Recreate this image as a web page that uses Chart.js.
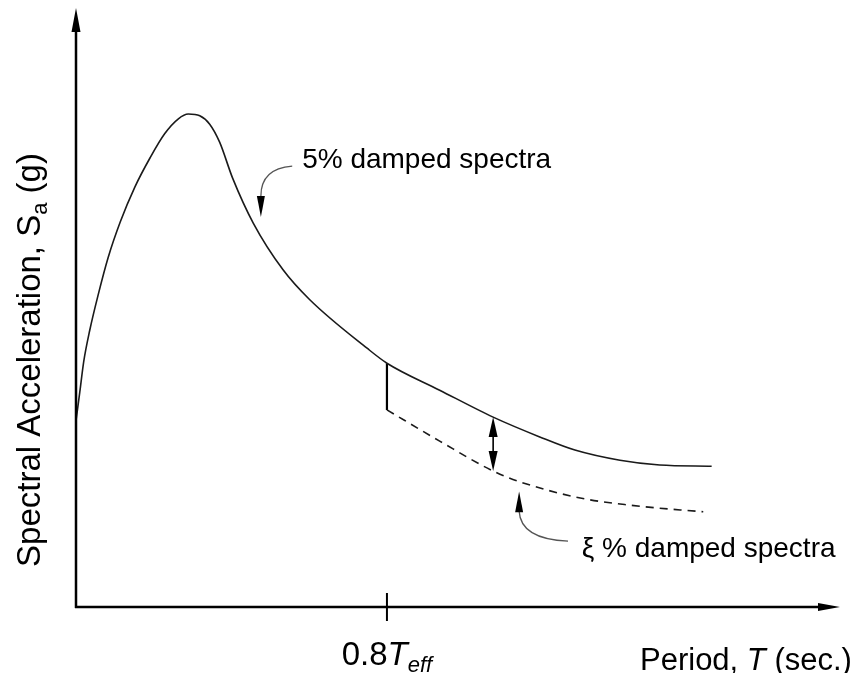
<!DOCTYPE html>
<html>
<head>
<meta charset="utf-8">
<script src="https://cdn.jsdelivr.net/npm/chart.js@4/dist/chart.umd.min.js"></script>
<style>
  html, body { margin: 0; padding: 0; background: #fff; }
  #wrap { width: 862px; height: 673px; }
</style>
</head>
<body>
<div id="wrap"><canvas id="spectraChart" width="862" height="673"></canvas></div>
<script>
// Period (arbitrary units) and spectral acceleration
const periods5 = [0.00, 0.05, 0.10, 0.18, 0.29, 0.42, 0.58, 0.77, 0.97, 1.16, 1.34, 1.47, 1.62, 1.75, 1.88, 2.05, 2.32, 2.71, 3.06, 3.81, 4.07, 4.76, 5.46, 6.07, 6.53, 7.12, 7.64, 8.32];
const sa5 = [3.11, 3.59, 4.09, 4.62, 5.21, 5.83, 6.43, 7.01, 7.50, 7.90, 8.15, 8.23, 8.20, 8.06, 7.76, 7.16, 6.41, 5.63, 5.13, 4.32, 4.07, 3.62, 3.17, 2.84, 2.62, 2.45, 2.37, 2.35];

const periodsXi = [4.07, 4.76, 5.46, 5.81, 6.60, 7.25, 7.91, 8.21];
const saXi = [3.29, 2.77, 2.27, 2.09, 1.82, 1.70, 1.62, 1.59];

// 0.8 T_eff and the spot of the double arrow
const tEff08 = 4.07;
const tArrow = 5.46;
const arrowTop = 3.17;
const arrowBottom = 2.27;

const toPoints = (xs, ys) => xs.map((x, i) => ({ x: x, y: ys[i] }));

const ink = '#1a1a1a';
const fontFam = '"Liberation Sans", Arial, Helvetica, sans-serif';

// axes, arrows, tick, labels and pointers
const drawingPlugin = {
    id: 'drawing',
    afterDatasetsDraw(chart) {
        const ctx = chart.ctx;
        const xs = chart.scales.x, ys = chart.scales.y;
        const px = v => xs.getPixelForValue(v);
        const py = v => ys.getPixelForValue(v);
        const area = chart.chartArea;
        const x0 = area.left, y0 = area.bottom;

        ctx.save();
        ctx.strokeStyle = '#000';
        ctx.fillStyle = '#000';
        ctx.lineWidth = 2.5;

        // y axis
        ctx.beginPath();
        ctx.moveTo(x0, y0 + 1);
        ctx.lineTo(x0, area.top + 20);
        ctx.stroke();
        ctx.beginPath();
        ctx.moveTo(x0, area.top);
        ctx.lineTo(x0 - 4.5, area.top + 24);
        ctx.lineTo(x0 + 4.5, area.top + 24);
        ctx.closePath();
        ctx.fill();

        // x axis
        ctx.beginPath();
        ctx.moveTo(x0 - 1, y0);
        ctx.lineTo(area.right - 18, y0);
        ctx.stroke();
        ctx.beginPath();
        ctx.moveTo(area.right, y0);
        ctx.lineTo(area.right - 22, y0 - 4);
        ctx.lineTo(area.right - 22, y0 + 4);
        ctx.closePath();
        ctx.fill();

        // tick at 0.8 T_eff
        ctx.lineWidth = 2;
        ctx.beginPath();
        ctx.moveTo(px(tEff08), y0 - 14);
        ctx.lineTo(px(tEff08), y0 + 14);
        ctx.stroke();

        // double arrow heads
        const ax = px(tArrow);
        const aTop = py(arrowTop), aBot = py(arrowBottom);
        ctx.beginPath();
        ctx.moveTo(ax, aTop);
        ctx.lineTo(ax - 4.5, aTop + 20);
        ctx.lineTo(ax + 4.5, aTop + 20);
        ctx.closePath();
        ctx.fill();
        ctx.beginPath();
        ctx.moveTo(ax, aBot);
        ctx.lineTo(ax - 4.5, aBot - 20);
        ctx.lineTo(ax + 4.5, aBot - 20);
        ctx.closePath();
        ctx.fill();

        // pointer for 5% curve
        ctx.strokeStyle = '#555';
        ctx.lineWidth = 1.3;
        ctx.beginPath();
        ctx.moveTo(px(2.83), py(7.36));
        ctx.quadraticCurveTo(px(2.42), py(7.32), px(2.42), py(6.86));
        ctx.stroke();
        ctx.fillStyle = '#000';
        ctx.beginPath();
        ctx.moveTo(px(2.42), py(6.51));
        ctx.lineTo(px(2.42) - 4, py(6.86));
        ctx.lineTo(px(2.42) + 4, py(6.86));
        ctx.closePath();
        ctx.fill();

        // pointer for xi curve
        ctx.beginPath();
        ctx.moveTo(px(5.80), py(1.60));
        ctx.quadraticCurveTo(px(5.82), py(1.13), px(6.44), py(1.10));
        ctx.stroke();
        ctx.beginPath();
        ctx.moveTo(px(5.80), py(1.93));
        ctx.lineTo(px(5.80) - 4, py(1.58));
        ctx.lineTo(px(5.80) + 4, py(1.58));
        ctx.closePath();
        ctx.fill();

        // text
        ctx.fillStyle = '#000';
        ctx.textBaseline = 'alphabetic';
        ctx.font = '28px ' + fontFam;
        ctx.textAlign = 'left';
        ctx.fillText('5% damped spectra', px(2.96), py(7.33));
        ctx.fillText('\u03BE % damped spectra', px(6.62), py(0.84));

        // 0.8 T_eff label
        const lblY = y0 + 58;
        const part1 = '0.8';
        ctx.font = '33px ' + fontFam;
        const w1 = ctx.measureText(part1).width;
        ctx.font = 'italic 33px ' + fontFam;
        const w2 = ctx.measureText('T').width;
        ctx.font = 'italic 22px ' + fontFam;
        const w3 = ctx.measureText('eff').width;
        let lx = px(tEff08) - (w1 + w2 + w3) / 2;
        ctx.font = '33px ' + fontFam;
        ctx.fillText(part1, lx, lblY);
        lx += w1;
        ctx.font = 'italic 33px ' + fontFam;
        ctx.fillText('T', lx, lblY);
        lx += w2;
        ctx.font = 'italic 22px ' + fontFam;
        ctx.fillText('eff', lx, lblY + 7);

        // x title
        const tY = y0 + 63;
        const seg = [['Period, ', ''], ['T', 'italic '], [' (sec.)', '']];
        let tx = 640;
        seg.forEach(s => {
            ctx.font = s[1] + '31px ' + fontFam;
            ctx.fillText(s[0], tx, tY);
            tx += ctx.measureText(s[0]).width;
        });

        // y title (rotated)
        ctx.translate(40, 360);
        ctx.rotate(-Math.PI / 2);
        const ySeg = [['Spectral Acceleration, S', 33, 0], ['a', 22, 7], [' (g)', 33, 0]];
        let yTotal = 0;
        ySeg.forEach(s => { ctx.font = s[1] + 'px ' + fontFam; yTotal += ctx.measureText(s[0]).width; });
        let yx = -yTotal / 2;
        ySeg.forEach(s => {
            ctx.font = s[1] + 'px ' + fontFam;
            ctx.fillText(s[0], yx, s[2]);
            yx += ctx.measureText(s[0]).width;
        });
        ctx.restore();
    }
};

const ctxSpectra = document.getElementById('spectraChart').getContext('2d');
const spectraChart = new Chart(ctxSpectra, {
    type: 'line',
    data: {
        datasets: [
            {
                label: '5% damped spectra',
                data: toPoints(periods5, sa5),
                borderColor: ink,
                borderWidth: 1.6,
                pointRadius: 0,
                cubicInterpolationMode: 'monotone',
                fill: false
            },
            {
                label: '\u03BE % damped spectra',
                data: toPoints(periodsXi, saXi),
                borderColor: ink,
                borderWidth: 1.6,
                borderDash: [8, 6],
                pointRadius: 0,
                cubicInterpolationMode: 'monotone',
                fill: false
            },
            {
                label: 'drop at 0.8 Teff',
                data: [{ x: tEff08, y: sa5[periods5.indexOf(tEff08)] }, { x: tEff08, y: saXi[0] }],
                borderColor: '#000',
                borderWidth: 2.2,
                pointRadius: 0,
                tension: 0,
                fill: false
            },
            {
                label: 'reduction',
                data: [{ x: tArrow, y: arrowTop - 0.15 }, { x: tArrow, y: arrowBottom + 0.15 }],
                borderColor: '#000',
                borderWidth: 1.6,
                pointRadius: 0,
                tension: 0,
                fill: false
            }
        ]
    },
    options: {
        responsive: false,
        animation: false,
        layout: { padding: { left: 76, right: 22, top: 8, bottom: 66 } },
        plugins: {
            legend: { display: false },
            tooltip: { enabled: false }
        },
        scales: {
            x: { type: 'linear', min: 0, max: 10, display: false },
            y: { type: 'linear', min: 0, max: 10, display: false }
        }
    },
    plugins: [drawingPlugin]
});
</script>
</body>
</html>
